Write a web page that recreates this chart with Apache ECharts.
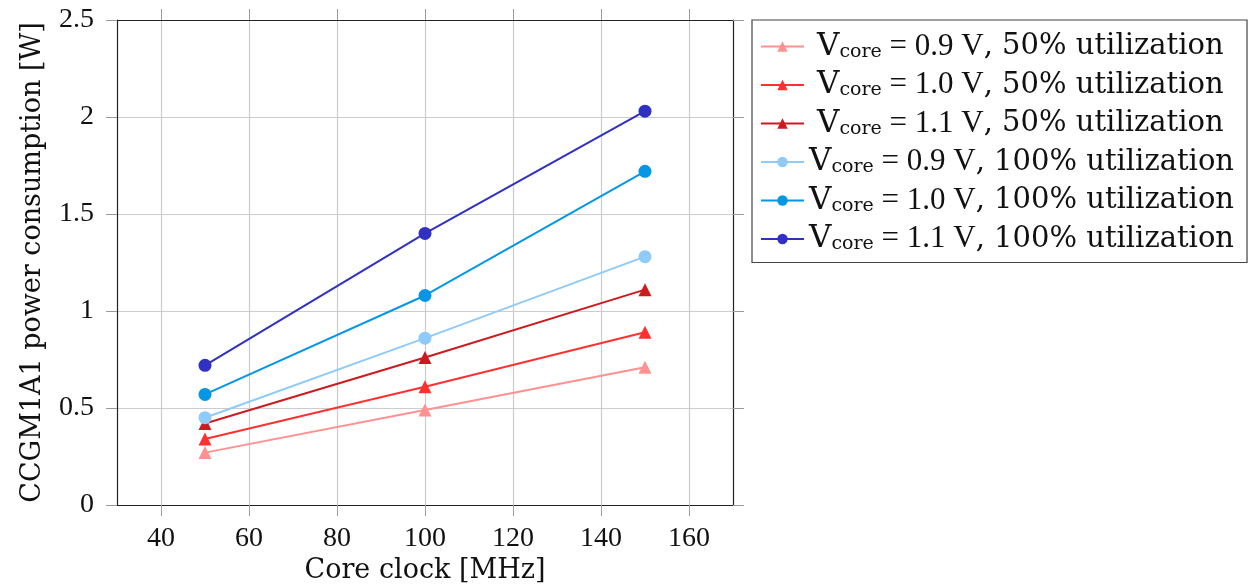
<!DOCTYPE html>
<html>
<head>
<meta charset="utf-8">
<script src="https://cdn.jsdelivr.net/npm/echarts@6/dist/echarts.min.js"></script>
<style>
  html, body { margin: 0; padding: 0; background: #fff; }
  #chart { width: 1248px; height: 584px; }
</style>
</head>
<body>
<div id="chart"></div>
<script>
// ---- data ----
const clocks = [50, 100, 150];
const xTicks = [40, 60, 80, 100, 120, 140, 160];
const yTicks = [0, 0.5, 1, 1.5, 2, 2.5];
const voltages = ['0.9', '1.0', '1.1'];
const utilizations = ['50%', '100%'];

const p09_50  = [0.27, 0.49, 0.71];
const p10_50  = [0.34, 0.61, 0.89];
const p11_50  = [0.42, 0.76, 1.11];
const p09_100 = [0.45, 0.86, 1.28];
const p10_100 = [0.57, 1.08, 1.72];
const p11_100 = [0.72, 1.40, 2.03];

const colors = ['#FF9191', '#FF3030', '#CC1A1F', '#8FCBF8', '#0597E6', '#3030C2'];
const seriesValues = [p09_50, p10_50, p11_50, p09_100, p10_100, p11_100];
const seriesVolt = [0, 1, 2, 0, 1, 2];
const seriesUtil = [0, 0, 0, 1, 1, 1];

function seriesName(i) {
  return 'Vcore = ' + voltages[seriesVolt[i]] + ' V, ' + utilizations[seriesUtil[i]] + ' utilization';
}

const series = seriesValues.map((vals, i) => ({
  name: seriesName(i),
  type: 'line',
  data: vals.map((v, k) => [clocks[k], v]),
  symbol: seriesUtil[i] === 0 ? 'triangle' : 'circle',
  symbolSize: 13,
  color: colors[i],
  lineStyle: { width: 2, color: colors[i] },
  itemStyle: { color: colors[i] },
  z: 3
}));

const nameToIdx = {};
seriesValues.forEach((_, i) => { nameToIdx[seriesName(i)] = i; });

const serif = '"Liberation Serif", "DejaVu Serif", serif';
const textFont = '"DejaVu Serif", serif';

const chart = echarts.init(document.getElementById('chart'), null, { renderer: 'canvas' });

const axisCommonX = {
  type: 'value',
  min: 30, max: 170,
  axisLine: { show: true, onZero: false, lineStyle: { color: '#222', width: 1.2 } },
  axisTick: { show: true, inside: false, length: 11, customValues: xTicks, lineStyle: { color: '#9a9a9a', width: 1 } },
};
const axisCommonY = {
  type: 'value',
  min: 0, max: 2.5, interval: 0.5,
  axisLine: { show: true, onZero: false, lineStyle: { color: '#222', width: 1.2 } },
  axisTick: { show: true, inside: false, length: 11, lineStyle: { color: '#9a9a9a', width: 1 } },
};

chart.setOption({
  animation: false,
  backgroundColor: '#ffffff',
  grid: { left: 117, right: 515, top: 20, bottom: 79, containLabel: false, outerBoundsMode: 'none' },
  xAxis: [
    Object.assign({}, axisCommonX, {
      position: 'bottom',
      name: 'Core clock [MHz]',
      nameLocation: 'middle',
      nameGap: 47,
      nameTextStyle: { fontFamily: textFont, fontSize: 27, color: '#111' },
      axisLabel: { customValues: xTicks, fontFamily: serif, fontSize: 28, color: '#111', margin: 20 },
      splitLine: { show: true, lineStyle: { color: '#cccccc', width: 1.2 } }
    }),
    Object.assign({}, axisCommonX, {
      position: 'top',
      axisLabel: { show: false },
      splitLine: { show: false }
    })
  ],
  yAxis: [
    Object.assign({}, axisCommonY, {
      position: 'left',
      name: 'CCGM1A1 power consumption [W]',
      nameLocation: 'middle',
      nameGap: 71,
      nameTextStyle: { fontFamily: textFont, fontSize: 27, color: '#111' },
      axisLabel: {
        fontFamily: serif, fontSize: 28, color: '#111', margin: 23,
        formatter: v => String(v)
      },
      splitLine: { show: true, lineStyle: { color: '#cccccc', width: 1.2 } }
    }),
    Object.assign({}, axisCommonY, {
      position: 'right',
      axisLabel: { show: false },
      splitLine: { show: false }
    })
  ],
  legend: {
    orient: 'vertical',
    left: 752,
    top: 20,
    itemWidth: 43,
    itemHeight: 13,
    itemGap: 7.5,
    padding: [11, 13, 8, 8],
    borderColor: '#444',
    borderWidth: 1.2,
    backgroundColor: '#fff',
    data: seriesValues.map((_, i) => seriesName(i)),
    formatter: function (name) {
      const i = nameToIdx[name];
      const pad = seriesUtil[i] === 0 ? '{pad|}' : '';
      return pad + '{v|V}{sub|core}{m| = ' + voltages[seriesVolt[i]] + ' V}{t|, ' + utilizations[seriesUtil[i]] + ' utilization}';
    },
    textStyle: {
      color: '#111',
      lineHeight: 30,
      rich: {
        pad: { width: 8 },
        v: { fontFamily: textFont, fontSize: 31, color: '#111', lineHeight: 30 },
        sub: { fontFamily: textFont, fontSize: 19, color: '#111', verticalAlign: 'bottom', lineHeight: 14 },
        m: { fontFamily: serif, fontSize: 31, color: '#111', lineHeight: 30 },
        t: { fontFamily: textFont, fontSize: 29, color: '#111', lineHeight: 30 }
      }
    }
  },
  series: series
});
</script>
</body>
</html>
